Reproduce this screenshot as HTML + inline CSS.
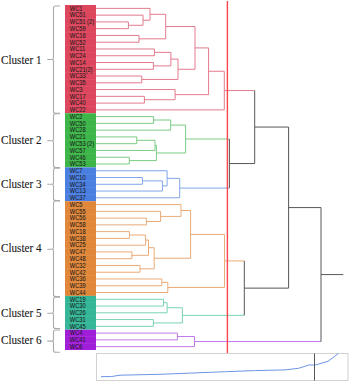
<!DOCTYPE html><html><head><meta charset="utf-8"><style>html,body{margin:0;padding:0;background:#fff;width:350px;height:383px;overflow:hidden}svg{display:block}</style></head><body>
<svg width="350" height="383" viewBox="0 0 350 383">
<rect x="65" y="5.00" width="31" height="108.24" fill="#dd465c"/>
<text transform="translate(69.8,10.68) scale(0.86,1)" font-family="Liberation Sans" font-size="6.6" fill="#1c1c1c" stroke="#1c1c1c" stroke-width="0.05">WC1</text>
<text transform="translate(69.8,17.45) scale(0.86,1)" font-family="Liberation Sans" font-size="6.6" fill="#1c1c1c" stroke="#1c1c1c" stroke-width="0.05">WC51</text>
<rect x="65" y="11.37" width="31" height="0.8" fill="#fff" fill-opacity="0.08"/>
<text transform="translate(69.8,24.21) scale(0.86,1)" font-family="Liberation Sans" font-size="6.6" fill="#1c1c1c" stroke="#1c1c1c" stroke-width="0.05">WC51 (2)</text>
<rect x="65" y="18.13" width="31" height="0.8" fill="#fff" fill-opacity="0.08"/>
<text transform="translate(69.8,30.98) scale(0.86,1)" font-family="Liberation Sans" font-size="6.6" fill="#1c1c1c" stroke="#1c1c1c" stroke-width="0.05">WC59</text>
<rect x="65" y="24.89" width="31" height="0.8" fill="#fff" fill-opacity="0.08"/>
<text transform="translate(69.8,37.74) scale(0.86,1)" font-family="Liberation Sans" font-size="6.6" fill="#1c1c1c" stroke="#1c1c1c" stroke-width="0.05">WC16</text>
<rect x="65" y="31.66" width="31" height="0.8" fill="#fff" fill-opacity="0.08"/>
<text transform="translate(69.8,44.51) scale(0.86,1)" font-family="Liberation Sans" font-size="6.6" fill="#1c1c1c" stroke="#1c1c1c" stroke-width="0.05">WC52</text>
<rect x="65" y="38.42" width="31" height="0.8" fill="#fff" fill-opacity="0.08"/>
<text transform="translate(69.8,51.27) scale(0.86,1)" font-family="Liberation Sans" font-size="6.6" fill="#1c1c1c" stroke="#1c1c1c" stroke-width="0.05">WC11</text>
<rect x="65" y="45.19" width="31" height="0.8" fill="#fff" fill-opacity="0.08"/>
<text transform="translate(69.8,58.04) scale(0.86,1)" font-family="Liberation Sans" font-size="6.6" fill="#1c1c1c" stroke="#1c1c1c" stroke-width="0.05">WC24</text>
<rect x="65" y="51.95" width="31" height="0.8" fill="#fff" fill-opacity="0.08"/>
<text transform="translate(69.8,64.80) scale(0.86,1)" font-family="Liberation Sans" font-size="6.6" fill="#1c1c1c" stroke="#1c1c1c" stroke-width="0.05">WC14</text>
<rect x="65" y="58.72" width="31" height="0.8" fill="#fff" fill-opacity="0.08"/>
<text transform="translate(69.8,71.57) scale(0.86,1)" font-family="Liberation Sans" font-size="6.6" fill="#1c1c1c" stroke="#1c1c1c" stroke-width="0.05">WC21(2)</text>
<rect x="65" y="65.48" width="31" height="0.8" fill="#fff" fill-opacity="0.08"/>
<text transform="translate(69.8,78.33) scale(0.86,1)" font-family="Liberation Sans" font-size="6.6" fill="#1c1c1c" stroke="#1c1c1c" stroke-width="0.05">WC33</text>
<rect x="65" y="72.25" width="31" height="0.8" fill="#fff" fill-opacity="0.08"/>
<text transform="translate(69.8,85.10) scale(0.86,1)" font-family="Liberation Sans" font-size="6.6" fill="#1c1c1c" stroke="#1c1c1c" stroke-width="0.05">WC35</text>
<rect x="65" y="79.01" width="31" height="0.8" fill="#fff" fill-opacity="0.08"/>
<text transform="translate(69.8,91.86) scale(0.86,1)" font-family="Liberation Sans" font-size="6.6" fill="#1c1c1c" stroke="#1c1c1c" stroke-width="0.05">WC3</text>
<rect x="65" y="85.78" width="31" height="0.8" fill="#fff" fill-opacity="0.08"/>
<text transform="translate(69.8,98.63) scale(0.86,1)" font-family="Liberation Sans" font-size="6.6" fill="#1c1c1c" stroke="#1c1c1c" stroke-width="0.05">WC17</text>
<rect x="65" y="92.54" width="31" height="0.8" fill="#fff" fill-opacity="0.08"/>
<text transform="translate(69.8,105.39) scale(0.86,1)" font-family="Liberation Sans" font-size="6.6" fill="#1c1c1c" stroke="#1c1c1c" stroke-width="0.05">WC40</text>
<rect x="65" y="99.31" width="31" height="0.8" fill="#fff" fill-opacity="0.08"/>
<text transform="translate(69.8,112.16) scale(0.86,1)" font-family="Liberation Sans" font-size="6.6" fill="#1c1c1c" stroke="#1c1c1c" stroke-width="0.05">WC22</text>
<rect x="65" y="106.07" width="31" height="0.8" fill="#fff" fill-opacity="0.08"/>
<rect x="65" y="113.24" width="31" height="54.12" fill="#3db548"/>
<text transform="translate(69.8,118.92) scale(0.86,1)" font-family="Liberation Sans" font-size="6.6" fill="#1c1c1c" stroke="#1c1c1c" stroke-width="0.05">WC2</text>
<text transform="translate(69.8,125.69) scale(0.86,1)" font-family="Liberation Sans" font-size="6.6" fill="#1c1c1c" stroke="#1c1c1c" stroke-width="0.05">WC50</text>
<rect x="65" y="119.60" width="31" height="0.8" fill="#fff" fill-opacity="0.08"/>
<text transform="translate(69.8,132.45) scale(0.86,1)" font-family="Liberation Sans" font-size="6.6" fill="#1c1c1c" stroke="#1c1c1c" stroke-width="0.05">WC28</text>
<rect x="65" y="126.37" width="31" height="0.8" fill="#fff" fill-opacity="0.08"/>
<text transform="translate(69.8,139.22) scale(0.86,1)" font-family="Liberation Sans" font-size="6.6" fill="#1c1c1c" stroke="#1c1c1c" stroke-width="0.05">WC21</text>
<rect x="65" y="133.13" width="31" height="0.8" fill="#fff" fill-opacity="0.08"/>
<text transform="translate(69.8,145.98) scale(0.86,1)" font-family="Liberation Sans" font-size="6.6" fill="#1c1c1c" stroke="#1c1c1c" stroke-width="0.05">WC53 (2)</text>
<rect x="65" y="139.90" width="31" height="0.8" fill="#fff" fill-opacity="0.08"/>
<text transform="translate(69.8,152.75) scale(0.86,1)" font-family="Liberation Sans" font-size="6.6" fill="#1c1c1c" stroke="#1c1c1c" stroke-width="0.05">WC57</text>
<rect x="65" y="146.66" width="31" height="0.8" fill="#fff" fill-opacity="0.08"/>
<text transform="translate(69.8,159.51) scale(0.86,1)" font-family="Liberation Sans" font-size="6.6" fill="#1c1c1c" stroke="#1c1c1c" stroke-width="0.05">WC46</text>
<rect x="65" y="153.43" width="31" height="0.8" fill="#fff" fill-opacity="0.08"/>
<text transform="translate(69.8,166.28) scale(0.86,1)" font-family="Liberation Sans" font-size="6.6" fill="#1c1c1c" stroke="#1c1c1c" stroke-width="0.05">WC53</text>
<rect x="65" y="160.19" width="31" height="0.8" fill="#fff" fill-opacity="0.08"/>
<rect x="65" y="167.36" width="31" height="33.83" fill="#4a7ee0"/>
<text transform="translate(69.8,173.04) scale(0.86,1)" font-family="Liberation Sans" font-size="6.6" fill="#1c1c1c" stroke="#1c1c1c" stroke-width="0.05">WC7</text>
<text transform="translate(69.8,179.81) scale(0.86,1)" font-family="Liberation Sans" font-size="6.6" fill="#1c1c1c" stroke="#1c1c1c" stroke-width="0.05">WC10</text>
<rect x="65" y="173.72" width="31" height="0.8" fill="#fff" fill-opacity="0.08"/>
<text transform="translate(69.8,186.57) scale(0.86,1)" font-family="Liberation Sans" font-size="6.6" fill="#1c1c1c" stroke="#1c1c1c" stroke-width="0.05">WC34</text>
<rect x="65" y="180.49" width="31" height="0.8" fill="#fff" fill-opacity="0.08"/>
<text transform="translate(69.8,193.34) scale(0.86,1)" font-family="Liberation Sans" font-size="6.6" fill="#1c1c1c" stroke="#1c1c1c" stroke-width="0.05">WC13</text>
<rect x="65" y="187.25" width="31" height="0.8" fill="#fff" fill-opacity="0.08"/>
<text transform="translate(69.8,200.10) scale(0.86,1)" font-family="Liberation Sans" font-size="6.6" fill="#1c1c1c" stroke="#1c1c1c" stroke-width="0.05">WC37</text>
<rect x="65" y="194.02" width="31" height="0.8" fill="#fff" fill-opacity="0.08"/>
<rect x="65" y="201.19" width="31" height="94.71" fill="#e0873a"/>
<text transform="translate(69.8,206.87) scale(0.86,1)" font-family="Liberation Sans" font-size="6.6" fill="#1c1c1c" stroke="#1c1c1c" stroke-width="0.05">WC5</text>
<text transform="translate(69.8,213.63) scale(0.86,1)" font-family="Liberation Sans" font-size="6.6" fill="#1c1c1c" stroke="#1c1c1c" stroke-width="0.05">WC55</text>
<rect x="65" y="207.55" width="31" height="0.8" fill="#fff" fill-opacity="0.08"/>
<text transform="translate(69.8,220.40) scale(0.86,1)" font-family="Liberation Sans" font-size="6.6" fill="#1c1c1c" stroke="#1c1c1c" stroke-width="0.05">WC56</text>
<rect x="65" y="214.31" width="31" height="0.8" fill="#fff" fill-opacity="0.08"/>
<text transform="translate(69.8,227.16) scale(0.86,1)" font-family="Liberation Sans" font-size="6.6" fill="#1c1c1c" stroke="#1c1c1c" stroke-width="0.05">WC58</text>
<rect x="65" y="221.08" width="31" height="0.8" fill="#fff" fill-opacity="0.08"/>
<text transform="translate(69.8,233.93) scale(0.86,1)" font-family="Liberation Sans" font-size="6.6" fill="#1c1c1c" stroke="#1c1c1c" stroke-width="0.05">WC18</text>
<rect x="65" y="227.84" width="31" height="0.8" fill="#fff" fill-opacity="0.08"/>
<text transform="translate(69.8,240.69) scale(0.86,1)" font-family="Liberation Sans" font-size="6.6" fill="#1c1c1c" stroke="#1c1c1c" stroke-width="0.05">WC38</text>
<rect x="65" y="234.61" width="31" height="0.8" fill="#fff" fill-opacity="0.08"/>
<text transform="translate(69.8,247.46) scale(0.86,1)" font-family="Liberation Sans" font-size="6.6" fill="#1c1c1c" stroke="#1c1c1c" stroke-width="0.05">WC25</text>
<rect x="65" y="241.37" width="31" height="0.8" fill="#fff" fill-opacity="0.08"/>
<text transform="translate(69.8,254.22) scale(0.86,1)" font-family="Liberation Sans" font-size="6.6" fill="#1c1c1c" stroke="#1c1c1c" stroke-width="0.05">WC47</text>
<rect x="65" y="248.14" width="31" height="0.8" fill="#fff" fill-opacity="0.08"/>
<text transform="translate(69.8,260.99) scale(0.86,1)" font-family="Liberation Sans" font-size="6.6" fill="#1c1c1c" stroke="#1c1c1c" stroke-width="0.05">WC48</text>
<rect x="65" y="254.90" width="31" height="0.8" fill="#fff" fill-opacity="0.08"/>
<text transform="translate(69.8,267.75) scale(0.86,1)" font-family="Liberation Sans" font-size="6.6" fill="#1c1c1c" stroke="#1c1c1c" stroke-width="0.05">WC32</text>
<rect x="65" y="261.67" width="31" height="0.8" fill="#fff" fill-opacity="0.08"/>
<text transform="translate(69.8,274.52) scale(0.86,1)" font-family="Liberation Sans" font-size="6.6" fill="#1c1c1c" stroke="#1c1c1c" stroke-width="0.05">WC42</text>
<rect x="65" y="268.44" width="31" height="0.8" fill="#fff" fill-opacity="0.08"/>
<text transform="translate(69.8,281.28) scale(0.86,1)" font-family="Liberation Sans" font-size="6.6" fill="#1c1c1c" stroke="#1c1c1c" stroke-width="0.05">WC36</text>
<rect x="65" y="275.20" width="31" height="0.8" fill="#fff" fill-opacity="0.08"/>
<text transform="translate(69.8,288.05) scale(0.86,1)" font-family="Liberation Sans" font-size="6.6" fill="#1c1c1c" stroke="#1c1c1c" stroke-width="0.05">WC39</text>
<rect x="65" y="281.97" width="31" height="0.8" fill="#fff" fill-opacity="0.08"/>
<text transform="translate(69.8,294.81) scale(0.86,1)" font-family="Liberation Sans" font-size="6.6" fill="#1c1c1c" stroke="#1c1c1c" stroke-width="0.05">WC44</text>
<rect x="65" y="288.73" width="31" height="0.8" fill="#fff" fill-opacity="0.08"/>
<rect x="65" y="295.89" width="31" height="33.82" fill="#34b697"/>
<text transform="translate(69.8,301.58) scale(0.86,1)" font-family="Liberation Sans" font-size="6.6" fill="#1c1c1c" stroke="#1c1c1c" stroke-width="0.05">WC19</text>
<text transform="translate(69.8,308.34) scale(0.86,1)" font-family="Liberation Sans" font-size="6.6" fill="#1c1c1c" stroke="#1c1c1c" stroke-width="0.05">WC30</text>
<rect x="65" y="302.26" width="31" height="0.8" fill="#fff" fill-opacity="0.08"/>
<text transform="translate(69.8,315.11) scale(0.86,1)" font-family="Liberation Sans" font-size="6.6" fill="#1c1c1c" stroke="#1c1c1c" stroke-width="0.05">WC26</text>
<rect x="65" y="309.03" width="31" height="0.8" fill="#fff" fill-opacity="0.08"/>
<text transform="translate(69.8,321.87) scale(0.86,1)" font-family="Liberation Sans" font-size="6.6" fill="#1c1c1c" stroke="#1c1c1c" stroke-width="0.05">WC31</text>
<rect x="65" y="315.79" width="31" height="0.8" fill="#fff" fill-opacity="0.08"/>
<text transform="translate(69.8,328.64) scale(0.86,1)" font-family="Liberation Sans" font-size="6.6" fill="#1c1c1c" stroke="#1c1c1c" stroke-width="0.05">WC45</text>
<rect x="65" y="322.56" width="31" height="0.8" fill="#fff" fill-opacity="0.08"/>
<rect x="65" y="329.72" width="31" height="20.30" fill="#a01ed8"/>
<text transform="translate(69.8,335.40) scale(0.86,1)" font-family="Liberation Sans" font-size="6.6" fill="#1c1c1c" stroke="#1c1c1c" stroke-width="0.05">WC4</text>
<text transform="translate(69.8,342.17) scale(0.86,1)" font-family="Liberation Sans" font-size="6.6" fill="#1c1c1c" stroke="#1c1c1c" stroke-width="0.05">WC41</text>
<rect x="65" y="336.08" width="31" height="0.8" fill="#fff" fill-opacity="0.08"/>
<text transform="translate(69.8,348.93) scale(0.86,1)" font-family="Liberation Sans" font-size="6.6" fill="#1c1c1c" stroke="#1c1c1c" stroke-width="0.05">WC6</text>
<rect x="65" y="342.85" width="31" height="0.8" fill="#fff" fill-opacity="0.08"/>
<path d="M96.00,21.91H128.40V28.68H96.00" fill="none" stroke="#e27a8c" stroke-width="1"/>
<path d="M96.00,15.15H143.00V25.29H128.40" fill="none" stroke="#e27a8c" stroke-width="1"/>
<path d="M96.00,8.38H150.00V20.22H143.00" fill="none" stroke="#e27a8c" stroke-width="1"/>
<path d="M96.00,35.44H139.00V42.21H96.00" fill="none" stroke="#e27a8c" stroke-width="1"/>
<path d="M150.00,14.30H165.70V38.82H139.00" fill="none" stroke="#e27a8c" stroke-width="1"/>
<path d="M96.00,48.97H154.40V55.74H96.00" fill="none" stroke="#e27a8c" stroke-width="1"/>
<path d="M96.00,62.50H153.40V69.27H96.00" fill="none" stroke="#e27a8c" stroke-width="1"/>
<path d="M154.40,52.35H170.90V65.88H153.40" fill="none" stroke="#e27a8c" stroke-width="1"/>
<path d="M96.00,76.03H141.80V82.80H96.00" fill="none" stroke="#e27a8c" stroke-width="1"/>
<path d="M170.90,59.12H178.00V79.41H141.80" fill="none" stroke="#e27a8c" stroke-width="1"/>
<path d="M165.70,26.56H195.00V69.27H178.00" fill="none" stroke="#e27a8c" stroke-width="1"/>
<path d="M96.00,96.33H144.40V103.09H96.00" fill="none" stroke="#e27a8c" stroke-width="1"/>
<path d="M96.00,89.56H175.10V99.71H144.40" fill="none" stroke="#e27a8c" stroke-width="1"/>
<path d="M195.00,47.92H208.60V94.64H175.10" fill="none" stroke="#e27a8c" stroke-width="1"/>
<path d="M208.60,71.28H224.30V109.86H96.00" fill="none" stroke="#e27a8c" stroke-width="1"/>
<path d="M224.30,90.57H254.70" fill="none" stroke="#e27a8c" stroke-width="1"/>
<path d="M96.00,116.62H153.60V123.39H96.00" fill="none" stroke="#7ccc84" stroke-width="1"/>
<path d="M153.60,120.00H170.70V130.15H96.00" fill="none" stroke="#7ccc84" stroke-width="1"/>
<path d="M96.00,136.92H136.80V143.68H96.00" fill="none" stroke="#7ccc84" stroke-width="1"/>
<path d="M136.80,140.30H155.00V150.45H96.00" fill="none" stroke="#7ccc84" stroke-width="1"/>
<path d="M96.00,157.21H129.30V163.98H96.00" fill="none" stroke="#7ccc84" stroke-width="1"/>
<path d="M155.00,145.37H156.40V160.59H129.30" fill="none" stroke="#7ccc84" stroke-width="1"/>
<path d="M170.70,125.08H185.60V152.98H156.40" fill="none" stroke="#7ccc84" stroke-width="1"/>
<path d="M185.60,139.03H229.40" fill="none" stroke="#7ccc84" stroke-width="1"/>
<path d="M96.00,177.51H142.40V184.27H96.00" fill="none" stroke="#80a6ea" stroke-width="1"/>
<path d="M142.40,180.89H162.40V191.04H96.00" fill="none" stroke="#80a6ea" stroke-width="1"/>
<path d="M96.00,170.74H167.10V185.96H162.40" fill="none" stroke="#80a6ea" stroke-width="1"/>
<path d="M167.10,178.35H179.70V197.80H96.00" fill="none" stroke="#80a6ea" stroke-width="1"/>
<path d="M179.70,188.08H229.40" fill="none" stroke="#80a6ea" stroke-width="1"/>
<path d="M229.40,139.03H229.40V188.08H229.40" fill="none" stroke="#575757" stroke-width="1"/>
<path d="M229.40,163.55H254.70" fill="none" stroke="#575757" stroke-width="1"/>
<path d="M254.70,90.57H254.70V163.55H254.70" fill="none" stroke="#575757" stroke-width="1"/>
<path d="M254.70,127.06H288.60" fill="none" stroke="#575757" stroke-width="1"/>
<path d="M96.00,218.10H146.40V224.86H96.00" fill="none" stroke="#e9ab78" stroke-width="1"/>
<path d="M96.00,211.33H160.60V221.48H146.40" fill="none" stroke="#e9ab78" stroke-width="1"/>
<path d="M96.00,204.57H181.00V216.41H160.60" fill="none" stroke="#e9ab78" stroke-width="1"/>
<path d="M96.00,231.63H129.40V238.39H96.00" fill="none" stroke="#e9ab78" stroke-width="1"/>
<path d="M129.40,235.01H145.60V245.16H96.00" fill="none" stroke="#e9ab78" stroke-width="1"/>
<path d="M96.00,251.92H131.90V258.69H96.00" fill="none" stroke="#e9ab78" stroke-width="1"/>
<path d="M145.60,240.08H148.50V255.31H131.90" fill="none" stroke="#e9ab78" stroke-width="1"/>
<path d="M96.00,265.45H140.00V272.22H96.00" fill="none" stroke="#e9ab78" stroke-width="1"/>
<path d="M148.50,247.69H154.20V268.83H140.00" fill="none" stroke="#e9ab78" stroke-width="1"/>
<path d="M181.00,210.49H190.60V258.26H154.20" fill="none" stroke="#e9ab78" stroke-width="1"/>
<path d="M96.00,278.98H161.80V285.75H96.00" fill="none" stroke="#e9ab78" stroke-width="1"/>
<path d="M161.80,282.37H167.80V292.51H96.00" fill="none" stroke="#e9ab78" stroke-width="1"/>
<path d="M190.60,234.38H224.50V287.44H167.80" fill="none" stroke="#e9ab78" stroke-width="1"/>
<path d="M224.50,260.91H244.30" fill="none" stroke="#e9ab78" stroke-width="1"/>
<path d="M96.00,299.28H163.50V306.04H96.00" fill="none" stroke="#78d2b6" stroke-width="1"/>
<path d="M163.50,302.66H167.10V312.81H96.00" fill="none" stroke="#78d2b6" stroke-width="1"/>
<path d="M96.00,319.57H153.40V326.34H96.00" fill="none" stroke="#78d2b6" stroke-width="1"/>
<path d="M167.10,307.73H182.40V322.95H153.40" fill="none" stroke="#78d2b6" stroke-width="1"/>
<path d="M182.40,315.34H244.30" fill="none" stroke="#78d2b6" stroke-width="1"/>
<path d="M244.30,260.91H244.30V315.34H244.30" fill="none" stroke="#575757" stroke-width="1"/>
<path d="M244.30,288.13H288.60" fill="none" stroke="#575757" stroke-width="1"/>
<path d="M288.60,127.06H288.60V288.13H288.60" fill="none" stroke="#575757" stroke-width="1"/>
<path d="M288.60,207.59H321.00" fill="none" stroke="#575757" stroke-width="1"/>
<path d="M96.00,333.10H177.40V339.87H96.00" fill="none" stroke="#c278ea" stroke-width="1"/>
<path d="M177.40,336.49H194.50V346.63H96.00" fill="none" stroke="#c278ea" stroke-width="1"/>
<path d="M194.50,341.56H321.00" fill="none" stroke="#c278ea" stroke-width="1"/>
<path d="M321.00,207.59H321.00V341.56H321.00" fill="none" stroke="#575757" stroke-width="1"/>
<path d="M321.00,274.58H343.30" fill="none" stroke="#575757" stroke-width="1"/>
<rect x="226.7" y="1" width="1.4" height="380" fill="#ff4450"/>
<path d="M60,6.00H55.5Q53.5,6.00 53.5,8.00V58.00Q53.5,59.50 52,59.50H47.3H52Q53.5,59.50 53.5,61.00V111.20Q53.5,113.20 55.5,113.20H60" fill="none" stroke="#aaa" stroke-width="1.1"/>
<text transform="translate(1,63.50) scale(0.85,1)" font-family="Liberation Serif" font-size="13.1" fill="#1a1a1a" stroke="#1a1a1a" stroke-width="0.12">Cluster 1</text>
<path d="M60,113.70H55.5Q53.5,113.70 53.5,115.70V139.20Q53.5,140.70 52,140.70H47.3H52Q53.5,140.70 53.5,142.20V165.50Q53.5,167.50 55.5,167.50H60" fill="none" stroke="#aaa" stroke-width="1.1"/>
<text transform="translate(1,144.40) scale(0.85,1)" font-family="Liberation Serif" font-size="13.1" fill="#1a1a1a" stroke="#1a1a1a" stroke-width="0.12">Cluster 2</text>
<path d="M60,168.30H55.5Q53.5,168.30 53.5,170.30V182.70Q53.5,184.20 52,184.20H47.3H52Q53.5,184.20 53.5,185.70V198.50Q53.5,200.50 55.5,200.50H60" fill="none" stroke="#aaa" stroke-width="1.1"/>
<text transform="translate(1,187.70) scale(0.85,1)" font-family="Liberation Serif" font-size="13.1" fill="#1a1a1a" stroke="#1a1a1a" stroke-width="0.12">Cluster 3</text>
<path d="M60,201.00H55.5Q53.5,201.00 53.5,203.00V247.70Q53.5,249.20 52,249.20H47.3H52Q53.5,249.20 53.5,250.70V294.50Q53.5,296.50 55.5,296.50H60" fill="none" stroke="#aaa" stroke-width="1.1"/>
<text transform="translate(1,252.40) scale(0.85,1)" font-family="Liberation Serif" font-size="13.1" fill="#1a1a1a" stroke="#1a1a1a" stroke-width="0.12">Cluster 4</text>
<path d="M60,297.30H55.5Q53.5,297.30 53.5,299.30V311.80Q53.5,313.30 52,313.30H47.3H52Q53.5,313.30 53.5,314.80V326.50Q53.5,328.50 55.5,328.50H60" fill="none" stroke="#aaa" stroke-width="1.1"/>
<text transform="translate(1,317.40) scale(0.85,1)" font-family="Liberation Serif" font-size="13.1" fill="#1a1a1a" stroke="#1a1a1a" stroke-width="0.12">Cluster 5</text>
<path d="M60,330.00H55.5Q53.5,330.00 53.5,332.00V339.60Q53.5,341.10 52,341.10H47.3H52Q53.5,341.10 53.5,342.60V350.30Q53.5,352.30 55.5,352.30H60" fill="none" stroke="#aaa" stroke-width="1.1"/>
<text transform="translate(1,344.10) scale(0.85,1)" font-family="Liberation Serif" font-size="13.1" fill="#1a1a1a" stroke="#1a1a1a" stroke-width="0.12">Cluster 6</text>
<rect x="96.5" y="353.5" width="251.5" height="27" fill="#fff" stroke="#d2d2d2" stroke-width="1"/>
<polyline points="101,376.7 111.7,376.5 120,375.2 160,374.3 225.6,371.7 255.4,370.6 285,369.9 298.6,368.3 308.8,365 315.3,365 328,361.3 338.4,353.5" fill="none" stroke="#6d95e6" stroke-width="1"/>
<rect x="314" y="353.5" width="1" height="27" fill="#555"/>
</svg></body></html>
